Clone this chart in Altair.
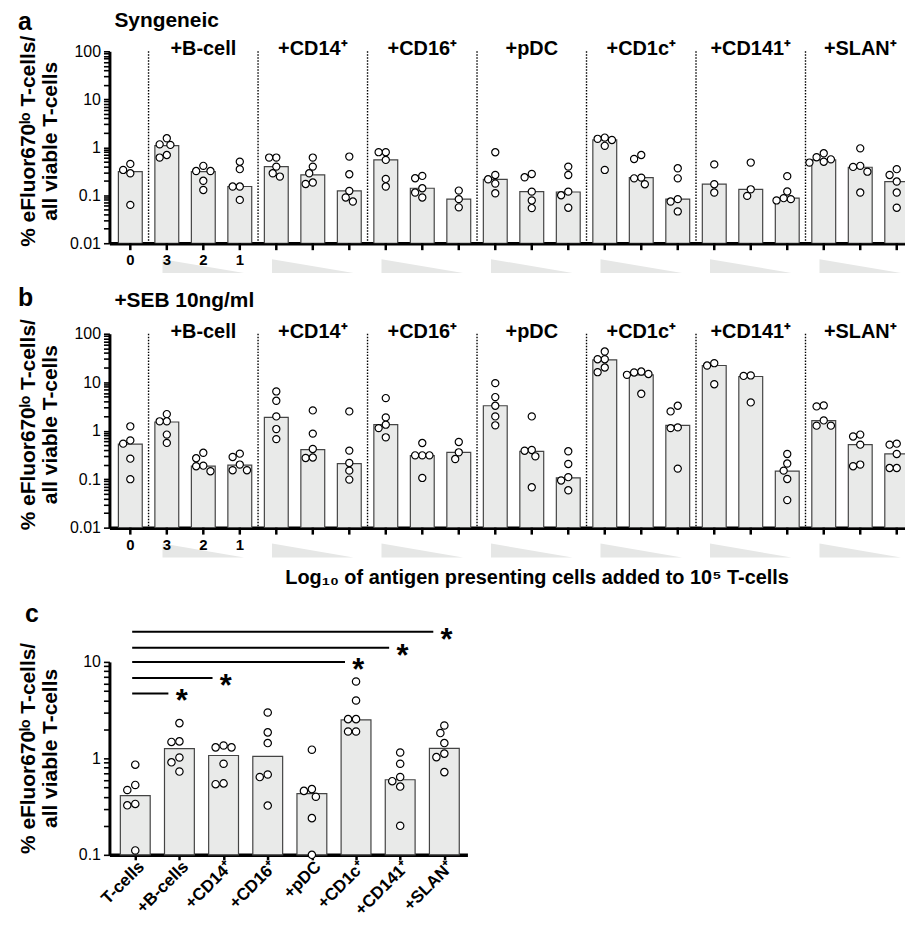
import math
import altair as alt
import pandas as pd

FONT = "Liberation Sans"

# ---------------- data ----------------
group_names = ["+B-cell", "+CD14⁺", "+CD16⁺", "+pDC", "+CD1c⁺", "+CD141⁺", "+SLAN⁺"]
dose_labels = ["0", "3", "2", "1"]
y_title = ["% eFluor670ˡᵒ T-cells/", "all viable T-cells"]
x_title_ab = "Log₁₀ of antigen presenting cells added to 10⁵ T-cells"

# panel a (syngeneic): bar = median, points = donors; order: T-cells alone, then 3 doses per APC type
a_bars = [0.31, 1.08, 0.31, 0.152, 0.395, 0.265, 0.123, 0.545, 0.14, 0.083, 0.215,
          0.119, 0.117, 1.42, 0.233, 0.083, 0.17, 0.133, 0.087, 0.545, 0.383, 0.193]
a_points = [
    [0.337, 0.287, 0.45, 0.063],
    [1.54, 1.12, 1.15, 0.61, 0.69],
    [0.41, 0.32, 0.32, 0.2, 0.129],
    [0.50, 0.35, 0.152, 0.152, 0.08],
    [0.61, 0.61, 0.395, 0.245, 0.287],
    [0.61, 0.395, 0.287, 0.172, 0.184],
    [0.64, 0.274, 0.123, 0.074, 0.09],
    [0.79, 0.79, 0.545, 0.219, 0.152],
    [0.253, 0.226, 0.14, 0.114, 0.09],
    [0.125, 0.083, 0.056],
    [0.787, 0.265, 0.215, 0.175, 0.11],
    [0.237, 0.278, 0.119, 0.078, 0.054],
    [0.395, 0.265, 0.119, 0.1, 0.055],
    [1.59, 1.5, 1.42, 1.07, 0.337],
    [0.69, 0.57, 0.233, 0.225, 0.17],
    [0.365, 0.225, 0.083, 0.074, 0.046],
    [0.44, 0.17, 0.114],
    [0.48, 0.133, 0.097],
    [0.25, 0.12, 0.087, 0.078, 0.083],
    [0.75, 0.56, 0.48, 0.62, 0.5],
    [0.95, 0.39, 0.41, 0.31, 0.114],
    [0.265, 0.35, 0.193, 0.114, 0.055],
]

# panel b (+SEB 10 ng/ml)
b_bars = [0.53, 1.51, 0.185, 0.194, 1.88, 0.407, 0.21, 1.33, 0.306, 0.358, 3.27,
          0.376, 0.106, 28.9, 14.2, 1.29, 22.1, 13.1, 0.146, 1.61, 0.515, 0.331]
b_points = [
    [1.23, 0.54, 0.63, 0.265, 0.1],
    [2.2, 1.56, 1.56, 0.83, 0.56],
    [0.35, 0.27, 0.19, 0.185, 0.146],
    [0.336, 0.287, 0.2, 0.153, 0.153],
    [6.45, 4.14, 1.97, 1.08, 0.67],
    [2.62, 0.87, 0.42, 0.274, 0.28],
    [2.5, 0.388, 0.216, 0.15, 0.098],
    [4.7, 1.88, 1.33, 1.13, 0.73],
    [0.557, 0.31, 0.31, 0.31, 0.106],
    [0.585, 0.358, 0.26],
    [9.57, 4.93, 3.27, 1.97, 1.29],
    [1.97, 0.386, 0.4, 0.296, 0.068],
    [0.376, 0.206, 0.11, 0.094, 0.059],
    [42.9, 29.8, 29.8, 20.1, 16.1],
    [16.6, 15.9, 14.2, 14.8, 5.77],
    [3.27, 2.5, 1.17, 1.13, 0.165],
    [24.7, 22.1, 9.1],
    [13.8, 13.5, 3.83],
    [0.331, 0.21, 0.15, 0.101, 0.037],
    [3.32, 3.17, 1.63, 1.27, 1.27],
    [0.76, 0.83, 0.515, 0.185, 0.2],
    [0.515, 0.54, 0.331, 0.17, 0.17],
]

# panel c (allogeneic summary)
c_names = ["T-cells", "+B-cells", "+CD14⁺", "+CD16⁺", "+pDC", "+CD1c⁺", "+CD141⁺", "+SLAN⁺"]
c_bars = [0.41, 1.26, 1.07, 1.05, 0.43, 2.51, 0.6, 1.27]
c_points = [
    [0.86, 0.53, 0.47, 0.337, 0.326, 0.111],
    [2.32, 1.48, 1.5, 1.02, 0.91, 0.73],
    [1.36, 1.3, 1.3, 0.88, 0.54, 0.55],
    [2.99, 1.86, 1.44, 0.68, 0.64, 0.324],
    [1.23, 0.48, 0.46, 0.4, 0.24, 0.1],
    [6.26, 3.98, 2.55, 2.55, 1.9, 1.9],
    [1.15, 0.88, 0.64, 0.58, 0.51, 0.2],
    [2.19, 1.83, 1.44, 1.12, 1.03, 0.72],
]
sig_targets = [1, 2, 5, 6, 7]
sig_levels = [4.7, 6.8, 10, 14, 20.5]

# ---------------- layout / style ----------------
AB_W, AB_STEP, AB_X0 = 800, 36.7, -0.572
AB_X1 = AB_X0 + AB_W / AB_STEP
A_H, B_H = 193, 195
C_W, C_STEP, C_X0 = 360, 44.4, -0.585
C_X1 = C_X0 + C_W / C_STEP
C_H = 194
BAR_FILL, BAR_STROKE = "#e9eae9", "#444444"


def swarm(vals, ppd, step_px, unit=3.6, dmin=7.2):
    placed, offs = [], [0.0] * len(vals)
    order = sorted(range(len(vals)), key=lambda i: -vals[i])
    cands = [0, -1, 1, -2, 2, -3, 3, -4, 4]
    for i in order:
        y = math.log10(vals[i]) * ppd
        x = 0.0
        for c in cands:
            x = c * unit
            if all((x - px) ** 2 + (y - py) ** 2 >= dmin ** 2 for px, py in placed):
                break
        placed.append((x, y))
        offs[i] = x / step_px
    return offs


def log_ticks(lo, hi):
    vals = []
    for e in range(lo, hi):
        for m in range(1, 10):
            vals.append(round(m * 10.0 ** e, 6))
    vals.append(round(10.0 ** hi, 6))
    return vals


def y_axis(lo, hi):
    majors = [round(10.0 ** e, 6) for e in range(lo, hi + 1)]
    test = " || ".join(f"datum.value == {m}" for m in majors)
    return alt.Axis(
        values=log_ticks(lo, hi), format="~g",
        labelExpr=f"({test}) ? datum.label : ''",
        labelFontSize=16, labelOverlap=False, title=None,
    )


def ytitle_layer(h, dy=-6):
    return alt.Chart(pd.DataFrame({"k": [0]})).mark_text(
        text=y_title, angle=270, align="center", baseline="top", fontSize=21,
        fontWeight="bold", lineHeight=22, color="black",
    ).encode(x=alt.value(-92), y=alt.value(h / 2 + dy))


def text_layer(txt, x, y, size, align="left", baseline="alphabetic"):
    return alt.Chart(pd.DataFrame({"k": [0]})).mark_text(
        text=txt, fontSize=size, fontWeight="bold", align=align, baseline=baseline, color="black"
    ).encode(x=alt.value(x), y=alt.value(y))


def choice_expr(labels):
    expr = "''"
    for i in reversed(range(len(labels))):
        expr = f"datum.value == {i} ? '{labels[i]}' : ({expr})"
    return expr


def panel_ab(bars, points, h, letter, subtitle, letter_y, sub_y, extra=None):
    ppd = h / 4.0
    n = len(bars)
    bar_df = pd.DataFrame({"pos": list(range(n)), "value": bars})
    bar_df["x0"] = bar_df["pos"] - 0.327
    bar_df["x1"] = bar_df["pos"] + 0.327
    rows = []
    for i, vals in enumerate(points):
        for v, o in zip(vals, swarm(vals, ppd, AB_STEP)):
            rows.append({"px": i + o, "value": v})
    pt_df = pd.DataFrame(rows)
    sep_df = pd.DataFrame({"sep": [0.5 + 3 * g for g in range(len(group_names))]})
    grp_df = pd.DataFrame({"mid": [2 + 3 * g for g in range(len(group_names))], "name": group_names})
    dose_df = pd.DataFrame({"pos": list(range(len(dose_labels))), "lab": dose_labels})

    xs = alt.Scale(domain=[AB_X0, AB_X1], nice=False, zero=False)
    ys = alt.Scale(type="log", domain=[0.01, 100], nice=False)
    x_axis = alt.Axis(labels=False, ticks=False, domain=True, title=None)

    wedges = alt.Chart(grp_df).mark_point(
        shape="M -1 -0.17 L 1 0.17 L -1 0.17 Z", size=6724, filled=True, fill="#e6e7e6", strokeWidth=0,
        opacity=1,
    ).encode(x=alt.X("mid:Q", scale=xs, axis=x_axis), y=alt.value(h + 23))
    bars_l = alt.Chart(bar_df).mark_bar(fill=BAR_FILL, stroke=BAR_STROKE, strokeWidth=1.2, clip=True).encode(
        x=alt.X("x0:Q", scale=xs, axis=x_axis),
        x2="x1:Q",
        y=alt.Y("value:Q", scale=ys, axis=y_axis(-2, 2)),
        y2=alt.datum(0.01),
    )
    xticks = alt.Chart(bar_df).mark_rule(color="black", strokeWidth=2.5).encode(
        x=alt.X("pos:Q", scale=xs, axis=x_axis), y=alt.value(h), y2=alt.value(h + 7)
    )
    xlabs = alt.Chart(dose_df).mark_text(fontSize=15, fontWeight="bold", baseline="middle",
                                         color="black").encode(
        x=alt.X("pos:Q", scale=xs, axis=x_axis), y=alt.value(h + 17), text="lab:N"
    )
    seps = alt.Chart(sep_df).mark_rule(color="black", strokeWidth=1.4, strokeDash=[1.5, 1.5]).encode(
        x=alt.X("sep:Q", scale=xs, axis=x_axis), y=alt.value(0), y2=alt.value(h)
    )
    pts = alt.Chart(pt_df).mark_point(
        shape="circle", size=52, filled=True, fill="white", stroke="black", strokeWidth=1.2, opacity=1, clip=True
    ).encode(x=alt.X("px:Q", scale=xs, axis=x_axis), y=alt.Y("value:Q", scale=ys, title=None))
    glab = alt.Chart(grp_df).mark_text(fontSize=20, fontWeight="bold", baseline="alphabetic", color="black").encode(
        x=alt.X("mid:Q", scale=xs, axis=x_axis), y=alt.value(4), text="name:N"
    )
    layers = [wedges, bars_l, xticks, xlabs, seps, pts, glab, ytitle_layer(h),
              text_layer(letter, -92, letter_y, 25), text_layer(subtitle, 5, sub_y, 21)]
    if extra is not None:
        layers.append(extra)
    return alt.layer(*layers).properties(width=AB_W, height=h)


def spacer(h):
    return alt.Chart(pd.DataFrame({"k": [0]})).mark_point(opacity=0).encode(
        x=alt.value(0), y=alt.value(0)
    ).properties(width=10, height=h)


pa = panel_ab(a_bars, a_points, A_H, "a", "Syngeneic", -21, -24)
pb = panel_ab(b_bars, b_points, B_H, "b", "+SEB 10ng/ml", -28, -27,
              extra=text_layer(x_title_ab, 430, B_H + 57, 20, align="center"))

# ---------------- panel c ----------------
ppd_c = C_H / 2.0
cbar_df = pd.DataFrame({"pos": list(range(len(c_bars))), "value": c_bars})
cbar_df["x0"] = cbar_df["pos"] - 0.338
cbar_df["x1"] = cbar_df["pos"] + 0.338
crows = []
for i, vals in enumerate(c_points):
    for v, o in zip(vals, swarm(vals, ppd_c, C_STEP, unit=4.0, dmin=8.0)):
        crows.append({"px": i + o, "value": v})
cpt_df = pd.DataFrame(crows)
sig_df = pd.DataFrame({"target": sig_targets, "level": sig_levels})
sig_df["start"] = -0.07
sig_df["end"] = sig_df["target"] - 0.25
sig_df["star"] = sig_df["target"] + 0.05

xs_c = alt.Scale(domain=[C_X0, C_X1], nice=False, zero=False)
ys_c = alt.Scale(type="log", domain=[0.1, 10], nice=False)
c_x_axis = alt.Axis(
    values=list(range(len(c_names))), labelExpr=choice_expr(c_names),
    labelAngle=-45, labelAlign="right", labelBaseline="middle", labelOverlap=False,
    labelFontSize=17, labelOffset=6, tickSize=5, labelPadding=4, title=None,
)
c_bars_l = alt.Chart(cbar_df).mark_bar(fill=BAR_FILL, stroke=BAR_STROKE, strokeWidth=1.2).encode(
    x=alt.X("x0:Q", scale=xs_c, axis=c_x_axis), x2="x1:Q",
    y=alt.Y("value:Q", scale=ys_c, axis=y_axis(-1, 1)), y2=alt.datum(0.1),
)
c_pts = alt.Chart(cpt_df).mark_point(
    shape="circle", size=55, filled=True, fill="white", stroke="black", strokeWidth=1.2, opacity=1
).encode(x=alt.X("px:Q", scale=xs_c, title=None), y=alt.Y("value:Q", scale=ys_c, title=None))
c_rules = alt.Chart(sig_df).mark_rule(color="black", strokeWidth=2).encode(
    x=alt.X("start:Q", scale=xs_c, title=None), x2="end:Q", y=alt.Y("level:Q", scale=ys_c, title=None)
)
c_stars = alt.Chart(sig_df).mark_text(text="*", fontSize=31, fontWeight="bold", baseline="middle",
                                      dy=9, color="black").encode(
    x=alt.X("star:Q", scale=xs_c, title=None), y=alt.Y("level:Q", scale=ys_c, title=None)
)
pc = alt.layer(
    c_bars_l, c_pts, c_rules, c_stars, ytitle_layer(C_H, -10), text_layer("c", -85, -40, 25)
).properties(width=C_W, height=C_H)

chart = alt.vconcat(
    pa, spacer(31), pb, spacer(75), pc, spacing=30, bounds="flush",
).properties(
    padding={"left": 10, "top": 0, "right": 0, "bottom": 0}
).configure(
    font=FONT
).configure_view(
    stroke=None
).configure_axis(
    grid=False, domainColor="black", tickColor="black", labelColor="black",
    labelFont=FONT, labelOverlap=False, labelBound=False, labelFlush=False,
).configure_axisX(
    domainWidth=3.5, tickWidth=2.5, tickSize=6, labelFontSize=16, labelFontWeight="bold", labelPadding=3,
).configure_axisY(
    domainWidth=3, tickWidth=1.6, tickSize=6, labelFontSize=16, labelFontWeight="normal", labelPadding=3,
)

chart.save("out.html", embed_options={"renderer": "svg", "actions": False})
